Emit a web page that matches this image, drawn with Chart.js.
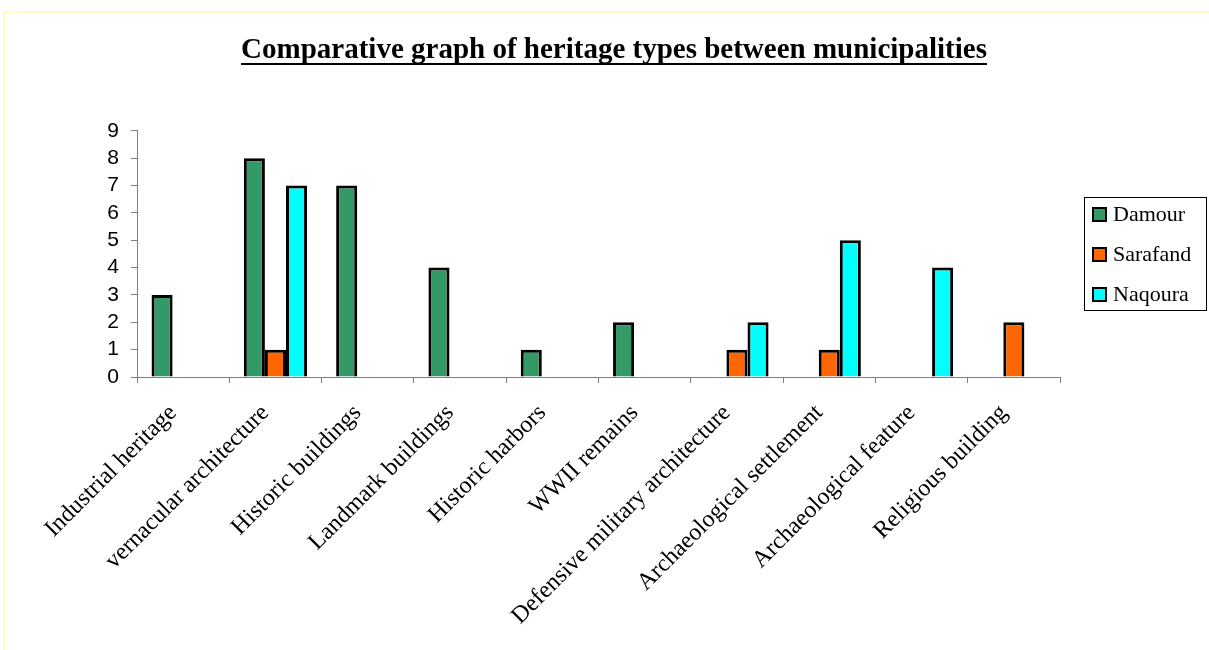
<!DOCTYPE html>
<html>
<head>
<meta charset="utf-8">
<script src="https://cdn.jsdelivr.net/npm/chart.js@4/dist/chart.umd.min.js"></script>
<style>
  html, body { margin: 0; padding: 0; background: #fff; }
  #wrap { position: relative; width: 1209px; height: 650px; overflow: hidden; }
  #frame { position: absolute; left: 3px; top: 11px; width: 1300px; height: 700px;
           border-left: 2px solid #fffbc4; border-top: 2px solid #fffbc4; }
  canvas { position: absolute; left: 0; top: 0; }
</style>
</head>
<body>
<div id="wrap">
  <div id="frame"></div>
  <canvas id="heritage" width="1209" height="650"></canvas>
</div>
<script>
var categories = ['Industrial heritage', 'vernacular architecture', 'Historic buildings',
  'Landmark buildings', 'Historic harbors', 'WWII remains',
  'Defensive military architecture', 'Archaeological settlement',
  'Archaeological feature', 'Religious building'];

// null = no sites of that type in the municipality
var damour   = [3, 8, 7, 4, 1, 2, null, null, null, null];
var sarafand = [null, 1, null, null, null, null, 1, 1, null, 2];
var naqoura  = [null, 7, null, null, null, null, 2, 5, 4, null];

var serif = '"Liberation Serif", "Times New Roman", serif';
var sans = '"Liberation Sans", Arial, sans-serif';
var axisColor = '#7f7f7f';
var titleSize = 29;

// underline under the title text
var titleUnderline = {
  id: 'titleUnderline',
  afterDraw: function(chart) {
    var t = chart.titleBlock;
    if (!t) return;
    var ctx = chart.ctx;
    ctx.save();
    ctx.font = 'bold ' + titleSize + 'px ' + serif;
    var w = ctx.measureText(chart.options.plugins.title.text).width;
    var cx = (t.left + t.right) / 2;
    var cy = t.top + t.options.padding.top + titleSize * 0.6;
    var y = Math.round(cy + titleSize * 0.45);
    ctx.fillStyle = '#000';
    ctx.fillRect(Math.round(cx - w / 2), y, Math.round(w), 2);
    ctx.restore();
  }
};

// boxed legend to the right of the plot, centred on it
var boxLegend = {
  id: 'boxLegend',
  afterDraw: function(chart) {
    var ctx = chart.ctx;
    var area = chart.chartArea;
    var sets = chart.data.datasets;
    var rowH = 40, boxW = 122, sq = 13;
    var boxH = rowH * sets.length - 7;
    var left = Math.round(area.right + 24);
    var top = Math.round((area.top + area.bottom) / 2 - boxH / 2);
    ctx.save();
    ctx.strokeStyle = '#000';
    ctx.lineWidth = 1;
    ctx.strokeRect(left + 0.5, top + 0.5, boxW, boxH);
    ctx.font = '22px ' + serif;
    ctx.textBaseline = 'middle';
    sets.forEach(function(ds, i) {
      var cy = top + 17 + i * rowH;
      ctx.fillStyle = ds.backgroundColor;
      ctx.fillRect(left + 9, cy - 6, sq, sq);
      ctx.lineWidth = 2;
      ctx.strokeRect(left + 9, cy - 6, sq, sq);
      ctx.fillStyle = '#000';
      ctx.fillText(ds.label, left + 29, cy + 1);
    });
    ctx.restore();
  }
};

new Chart(document.getElementById('heritage'), {
  type: 'bar',
  data: {
    labels: categories,
    datasets: [
      { label: 'Damour', data: damour, backgroundColor: '#339966' },
      { label: 'Sarafand', data: sarafand, backgroundColor: '#ff6600' },
      { label: 'Naqoura', data: naqoura, backgroundColor: '#00ffff' }
    ]
  },
  options: {
    responsive: false,
    animation: false,
    devicePixelRatio: 1,
    layout: { padding: { left: 19, right: 0, top: 0, bottom: 0 } },
    datasets: {
      bar: {
        borderColor: '#000',
        borderWidth: 3,
        borderSkipped: 'bottom',
        barPercentage: 1,
        categoryPercentage: 0.685
      }
    },
    plugins: {
      title: {
        display: true,
        text: 'Comparative graph of heritage types between municipalities',
        color: '#000',
        font: { family: serif, size: titleSize, weight: 'bold' },
        padding: { top: 33, bottom: 63 }
      },
      legend: { display: false },
      tooltip: { enabled: false }
    },
    scales: {
      x: {
        afterFit: function(s) { s.height = 273; },
        grid: { drawOnChartArea: false, drawTicks: true, tickLength: 6, color: axisColor },
        border: { color: axisColor, width: 1 },
        ticks: {
          autoSkip: false,
          minRotation: 45,
          maxRotation: 45,
          padding: 16,
          labelOffset: -10,
          color: '#000',
          font: { family: serif, size: 24 }
        }
      },
      y: {
        min: 0,
        max: 9,
        afterFit: function(s) { s.width = 118; },
        grid: { drawOnChartArea: false, drawTicks: true, tickLength: 6, color: axisColor },
        border: { color: axisColor, width: 1 },
        ticks: {
          stepSize: 1,
          autoSkip: false,
          padding: 12,
          color: '#000',
          font: { family: sans, size: 21 }
        }
      },
      // empty right-hand axis that keeps room for the legend box
      legendRoom: {
        type: 'linear',
        position: 'right',
        afterFit: function(s) { s.width = 149; },
        grid: { display: false },
        border: { display: false },
        ticks: { display: false }
      }
    }
  },
  plugins: [titleUnderline, boxLegend]
});
</script>
</body>
</html>
